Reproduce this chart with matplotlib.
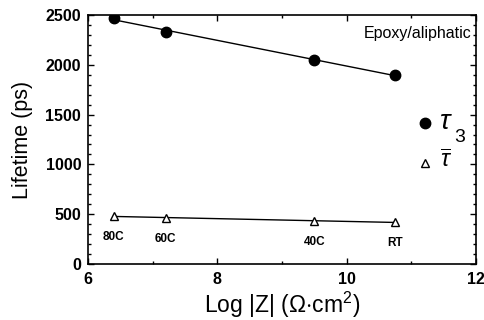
import numpy as np
import matplotlib
matplotlib.use("Agg")
import matplotlib.pyplot as plt
from matplotlib.ticker import MultipleLocator

plt.rcParams['font.family'] = ['Liberation Sans', 'DejaVu Sans']
plt.rcParams['mathtext.fontset'] = 'custom'
plt.rcParams['mathtext.rm'] = 'Liberation Sans'
plt.rcParams['mathtext.it'] = 'Liberation Sans:italic'

log_z = [6.4, 7.2, 9.5, 10.75]
tau3 = [2470, 2330, 2045, 1900]
tau_mean = [482, 462, 432, 420]
temps = ["80C", "60C", "40C", "RT"]

fig = plt.figure(figsize=(4.84, 3.2), dpi=100)
ax = fig.add_axes([0.182, 0.175, 0.801, 0.778])

# straight-line fits through each series
for y in (tau3, tau_mean):
    k, b = np.polyfit(log_z, y, 1)
    xs = np.array([log_z[0], log_z[-1]])
    ax.plot(xs, k * xs + b, color='black', lw=1.0, zorder=2)

ax.plot(log_z, tau3, 'o', color='black', ms=7.5, zorder=3)
ax.plot(log_z, tau_mean, '^', mfc='white', mec='black', mew=1.0, ms=6, zorder=3)

for x, y, t in zip(log_z, tau_mean, temps):
    ax.annotate(t, (x, y), xytext=(0, -11), textcoords='offset points',
                ha='center', va='top', fontsize=8.5, fontweight='bold')

ax.text(0.99, 0.955, "Epoxy/aliphatic", transform=ax.transAxes,
        ha='right', va='top', fontsize=11.5)

# legend markers and labels
ax.plot([11.22], [1415], 'o', color='black', ms=7.5)
ax.text(11.45, 1430, "\u03c4", fontsize=20, va='center', ha='left',
        style='italic')
ax.text(11.66, 1270, "3", fontsize=14, va='center', ha='left')
ax.plot([11.22], [1015], '^', mfc='white', mec='black', mew=1.0, ms=6)
ax.text(11.45, 1030, r"$\overline{\tau}$", fontsize=17, va='center', ha='left')

ax.set_xlim(6, 12)
ax.set_ylim(0, 2500)
ax.xaxis.set_major_locator(MultipleLocator(2))
ax.xaxis.set_minor_locator(MultipleLocator(1))
ax.yaxis.set_major_locator(MultipleLocator(500))
ax.yaxis.set_minor_locator(MultipleLocator(100))
ax.tick_params(which='both', direction='in', top=True, right=True,
               labelsize=11.5, width=1.0)
ax.tick_params(which='major', length=4)
ax.tick_params(which='minor', length=2.5)
ax.tick_params(axis='x', pad=6)
ax.tick_params(axis='y', pad=5)
for lbl in ax.get_xticklabels() + ax.get_yticklabels():
    lbl.set_fontweight('bold')
for s in ax.spines.values():
    s.set_linewidth(1.2)

ax.set_xlabel(r"Log |Z| ($\Omega$$\cdot$cm$^2$)", fontsize=16.5, labelpad=2)
ax.set_ylabel("Lifetime (ps)", fontsize=15.5, labelpad=9)

fig.savefig("out.png", dpi=100)
